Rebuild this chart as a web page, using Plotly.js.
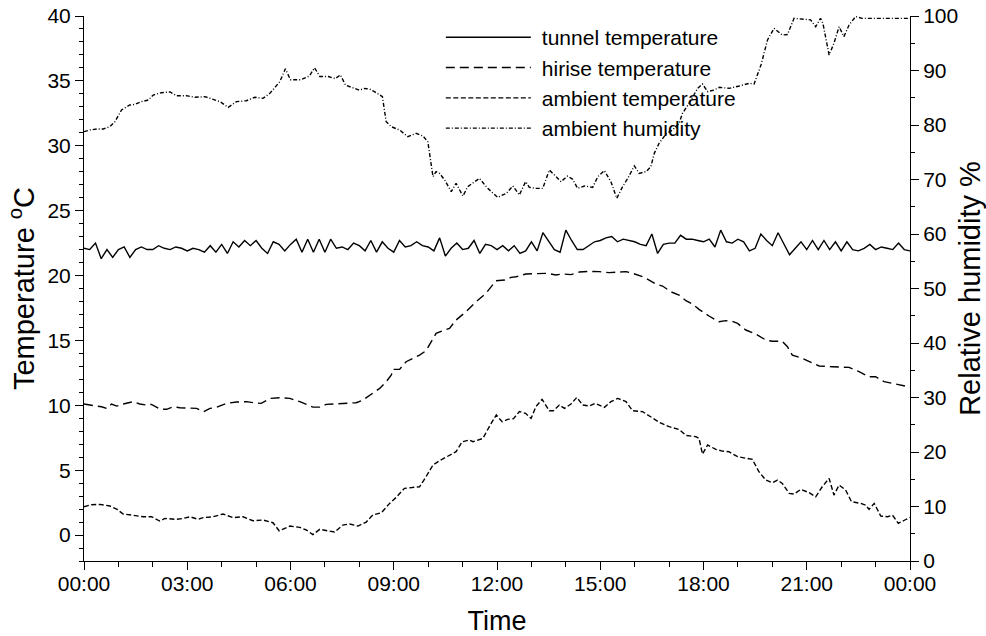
<!DOCTYPE html>
<html><head><meta charset="utf-8">
<script src="https://cdn.plot.ly/plotly-3.0.1.min.js"></script>
<style>html,body{margin:0;padding:0;background:#fff;}#chart{width:986px;height:636px;}</style>
</head><body><div id="chart"></div>
<script>
// x tick labels
const timeTickVals = [0, 3, 6, 9, 12, 15, 18, 21, 24];
const timeTickText = ['00:00','03:00','06:00','09:00','12:00','15:00','18:00','21:00','00:00'];

// tunnel temperature, one reading every 10 minutes from 00:00 to 24:00
const tunnelTemp = [
 22.1,22.0,22.5,21.3,22.0,21.4,22.0,22.2,21.4,22.0,
 22.2,22.0,22.0,22.3,22.1,22.0,22.2,22.1,21.9,22.1,
 22.0,21.8,22.3,21.8,22.4,21.7,22.6,22.2,22.7,22.3,
 22.7,22.1,21.7,22.6,22.4,21.9,22.4,22.8,21.8,22.8,
 21.8,22.8,21.8,22.8,22.1,22.2,22.0,22.5,22.3,21.9,
 22.7,21.8,22.6,22.1,21.8,22.7,22.2,22.3,22.6,22.3,
 22.2,21.9,22.9,21.5,22.1,22.5,22.0,22.1,22.7,21.7,
 22.4,22.3,22.0,
 22.3,21.9,22.3,21.7,21.9,22.6,21.9,23.3,22.6,22.0,
 21.8,23.5,22.7,22.0,22.0,22.3,22.6,22.7,22.9,23.0,
 22.6,22.8,22.7,22.6,22.4,22.3,23.2,21.7,22.4,22.5,
 22.5,23.1,22.8,22.8,22.7,22.6,22.8,22.2,23.5,22.6,
 22.5,22.8,22.6,21.9,22.1,23.2,22.7,22.3,23.3,22.4,
 21.6,22.1,22.6,22.0,22.7,22.0,22.7,22.0,22.6,21.9,
 22.6,22.0,21.9,22.1,22.4,22.0,22.2,22.1,22.0,22.5,
 22.0,21.9
];
const tunnelHours = tunnelTemp.map((v, i) => i / 6);

// hirise temperature (hours, °C)
const hiriseHours = [0,0.17,0.37,0.51,0.66,0.8,0.95,1.14,1.43,1.62,1.82,1.96,2.2,2.4,2.59,2.79,3.08,3.27,3.48,3.66,3.85,4.14,4.43,4.72,4.91,5.15,5.4,5.69,5.98,6.27,6.65,6.85,7.04,7.33,7.62,7.91,8.1,8.39,8.59,8.78,8.93,8.97,9.17,9.36,9.56,9.75,9.94,10.09,10.23,10.43,10.62,10.81,11.1,11.39,11.68,11.97,12.22,12.41,12.56,12.84,13.23,13.47,13.71,13.91,14.15,14.39,14.68,14.97,15.26,15.55,15.75,15.94,16.23,16.42,16.62,16.81,17.05,17.29,17.49,17.68,17.87,18.16,18.45,18.65,18.84,18.99,19.23,19.52,19.81,20.0,20.29,20.44,20.58,20.87,21.07,21.36,21.75,22.04,22.23,22.52,22.81,23.0,23.25,23.49,23.83,24.0];
const hiriseTemp = [10.1,10.0,9.94,9.89,9.76,10.1,9.94,10.1,10.28,10.1,10.02,10.07,9.71,9.69,9.89,9.81,9.79,9.76,9.51,9.76,9.84,10.15,10.25,10.28,10.2,10.15,10.53,10.58,10.53,10.28,9.86,9.86,10.07,10.1,10.15,10.2,10.4,10.92,11.3,11.82,12.33,12.77,12.77,13.36,13.62,13.87,14.21,14.9,15.54,15.75,15.93,16.57,17.21,17.98,18.63,19.6,19.65,19.86,19.91,20.12,20.17,20.17,20.04,20.12,20.07,20.27,20.32,20.3,20.22,20.27,20.3,20.17,19.91,19.65,19.34,19.19,18.75,18.5,18.06,17.8,17.39,16.88,16.44,16.52,16.47,16.31,15.8,15.49,15.03,14.93,14.93,14.51,13.87,13.62,13.36,13.03,12.97,12.97,12.92,12.59,12.2,12.2,11.82,11.69,11.48,11.4];

// ambient temperature (hours, °C)
const ambientHours = [0,0.22,0.46,0.75,0.95,1.14,1.43,1.72,1.96,2.2,2.35,2.69,2.88,3.08,3.32,3.46,3.75,4.04,4.33,4.62,4.91,5.2,5.49,5.67,5.98,6.27,6.46,6.65,6.85,7.04,7.28,7.52,7.72,7.96,8.2,8.39,8.64,8.88,9.07,9.31,9.51,9.75,9.94,10.14,10.33,10.62,10.81,10.99,11.2,11.3,11.59,11.83,11.98,12.15,12.31,12.48,12.65,12.83,12.99,13.13,13.31,13.52,13.64,13.81,13.96,14.15,14.32,14.49,14.68,14.86,15.12,15.31,15.51,15.75,15.94,16.23,16.52,16.72,17.0,17.29,17.49,17.78,17.87,17.97,18.12,18.36,18.55,18.74,18.99,19.23,19.42,19.61,19.81,20.0,20.15,20.29,20.49,20.63,20.83,21.07,21.26,21.45,21.65,21.79,21.94,22.13,22.3,22.57,22.71,22.81,22.96,23.15,23.35,23.49,23.66,23.85,24.0];
const ambientTemp = [2.18,2.34,2.36,2.24,2.0,1.62,1.52,1.41,1.41,1.08,1.28,1.21,1.28,1.41,1.21,1.34,1.41,1.62,1.34,1.41,1.1,1.16,0.95,0.33,0.69,0.59,0.39,0.03,0.44,0.33,0.23,0.77,0.85,0.69,1.0,1.54,1.72,2.44,2.9,3.6,3.65,3.72,4.5,5.4,5.73,6.17,6.42,7.19,7.32,7.19,7.45,8.61,9.25,8.73,8.91,8.97,9.51,9.38,8.99,9.89,10.46,9.58,9.58,10.02,9.76,10.1,10.61,10.02,9.94,10.15,9.84,10.28,10.53,10.28,9.58,9.51,8.99,8.68,8.35,8.14,7.68,7.58,7.45,6.24,6.94,6.6,6.47,6.42,6.04,5.91,5.83,4.88,4.24,4.03,4.24,3.98,3.21,3.16,3.52,3.26,2.95,3.72,4.37,3.08,3.85,3.47,2.57,2.44,2.31,1.98,2.44,1.46,1.41,1.54,0.9,1.16,1.36];

// ambient relative humidity (hours, %)
const humidityHours = [0,0.17,0.37,0.56,0.75,0.9,1.09,1.33,1.48,1.67,1.87,2.01,2.25,2.5,2.69,2.98,3.22,3.51,3.75,3.95,4.19,4.43,4.72,4.96,5.2,5.4,5.69,5.85,6.0,6.3,6.55,6.7,6.85,7.1,7.3,7.45,7.6,7.8,8.0,8.15,8.3,8.44,8.67,8.78,8.93,9.17,9.41,9.65,9.85,9.99,10.14,10.23,10.33,10.48,10.67,10.81,11.01,11.15,11.49,11.73,12.02,12.27,12.46,12.65,12.83,12.94,13.14,13.33,13.52,13.67,13.86,14.05,14.2,14.34,14.54,14.78,14.93,15.12,15.31,15.48,15.65,15.8,15.99,16.13,16.33,16.47,16.57,16.71,16.91,17.1,17.29,17.39,17.58,17.83,17.97,18.12,18.31,18.46,18.75,19.04,19.33,19.47,19.67,19.86,20.05,20.29,20.44,20.63,20.87,21.11,21.26,21.4,21.47,21.65,21.79,21.94,22.08,22.23,22.42,22.61,23.19,24.0];
const humidity = [78.78,79.08,79.27,79.27,79.69,80.61,82.75,83.67,83.79,84.28,84.59,85.5,85.93,86.06,85.38,85.38,85.08,85.2,84.71,84.28,83.24,84.28,84.46,85.08,84.89,85.81,87.95,90.3,88.3,88.3,89.0,90.5,88.9,88.9,88.5,89.2,87.3,86.9,86.4,86.7,86.6,86.12,85.2,80.61,79.69,79.08,77.86,78.47,77.98,76.94,70.52,71.44,71.13,69.91,67.77,69.3,66.97,68.69,70.21,68.38,66.73,67.46,68.81,67.16,69.6,68.56,68.38,68.38,71.74,70.83,69.6,70.64,70.03,68.38,68.81,68.56,70.52,71.62,69.6,66.54,68.69,70.21,72.48,71.13,71.44,72.35,74.8,76.64,78.35,79.08,80.31,82.14,83.98,86.73,87.52,86.12,86.42,86.91,86.73,87.16,87.65,87.52,91.01,95.6,97.74,96.51,96.6,99.57,99.4,99.3,98.04,99.57,98.65,92.84,94.99,98.04,96.21,98.35,99.9,99.57,99.57,99.57];

const seriesNames = ['tunnel temperature','hirise temperature','ambient temperature','ambient humidity'];

const FONT = '"Liberation Sans", Arial, sans-serif';
const data = [
  {x: tunnelHours, y: tunnelTemp, name: seriesNames[0], type: 'scatter', mode: 'lines',
   line: {color: '#000', width: 1.4}},
  {x: hiriseHours, y: hiriseTemp, name: seriesNames[1], type: 'scatter', mode: 'lines',
   line: {color: '#000', width: 1.4, dash: '9px,5px'}},
  {x: ambientHours, y: ambientTemp, name: seriesNames[2], type: 'scatter', mode: 'lines',
   line: {color: '#000', width: 1.4, dash: '5px,2.5px'}},
  {x: humidityHours, y: humidity, name: seriesNames[3], type: 'scatter', mode: 'lines', yaxis: 'y2',
   line: {color: '#000', width: 1.4, dash: '4px,2px,1px,2px'}}
];

const layout = {
  width: 986, height: 636,
  margin: {l: 84, r: 76, t: 16, b: 75},
  paper_bgcolor: '#fff', plot_bgcolor: '#fff',
  font: {family: FONT, color: '#000', size: 21},
  showlegend: true,
  legend: {x: 0.432, y: 0.998, xanchor: 'left', yanchor: 'top', bgcolor: 'rgba(0,0,0,0)',
           font: {family: FONT, size: 21, color: '#000'}, itemwidth: 91, tracegroupgap: 0},
  xaxis: {range: [0, 24], tickvals: timeTickVals, ticktext: timeTickText,
          showgrid: false, zeroline: false, showline: true, linecolor: '#000', linewidth: 1,
          ticks: 'outside', ticklen: 8, tickcolor: '#000', ticklabelstandoff: -4,
          minor: {dtick: 1, ticks: 'outside', ticklen: 5, tickcolor: '#000'},
          tickfont: {family: FONT, size: 21},
          title: {text: 'Time', font: {family: FONT, size: 27}, standoff: 17}},
  yaxis: {range: [-2, 40], tick0: 0, dtick: 5,
          showgrid: false, zeroline: false, showline: true, linecolor: '#000', linewidth: 1,
          ticks: 'outside', ticklen: 8, tickcolor: '#000',
          minor: {dtick: 1, ticks: 'outside', ticklen: 4, tickcolor: '#000'},
          tickfont: {family: FONT, size: 21},
          title: {text: 'Temperature <sup>o</sup>C', font: {family: FONT, size: 29}, standoff: 4}},
  yaxis2: {range: [0, 100], dtick: 10, overlaying: 'y', side: 'right',
           showgrid: false, zeroline: false, showline: true, linecolor: '#000', linewidth: 1,
           ticks: 'outside', ticklen: 8, tickcolor: '#000',
           minor: {dtick: 5, ticks: 'outside', ticklen: 4, tickcolor: '#000'},
           tickfont: {family: FONT, size: 21},
           title: {text: 'Relative humidity %', font: {family: FONT, size: 29}, standoff: 5}}
};

Plotly.newPlot('chart', data, layout, {staticPlot: true, displayModeBar: false}).then(gd => {
  gd.querySelectorAll('.legendlines path').forEach(p => p.setAttribute('d', 'M5,0h85'));
});
</script>
</body></html>
